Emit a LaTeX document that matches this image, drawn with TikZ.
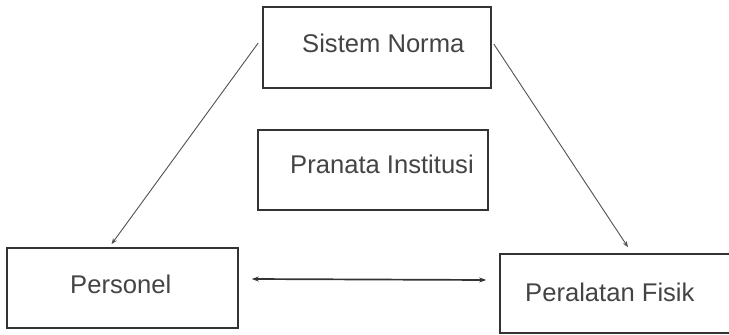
\documentclass[tikz,border=0pt]{standalone}
\usepackage{fontspec}
\setmainfont{Liberation Sans}
\usetikzlibrary{arrows.meta,calc}
\definecolor{ink}{HTML}{333333}
\definecolor{txt}{HTML}{444444}
\tikzset{
  box/.style={draw=ink, line width=1.6pt, rectangle, inner sep=0pt},
  lbl/.style={text=txt, inner sep=0pt, anchor=base west, font=\fontsize{25.6}{30}\selectfont},
  conn/.style={draw=ink!85, line width=0.9pt, -{Stealth[length=6pt,width=4.5pt]}},
  biconn/.style={draw=ink, line width=1.7pt, {Stealth[length=7pt,width=5pt]}-{Stealth[length=7pt,width=5pt]}}
}
\begin{document}
\begin{tikzpicture}[x=1pt,y=-1pt]
\useasboundingbox (0,0) rectangle (729,335);
\fill[white] (0,0) rectangle (729,335);
% boxes
\node[box, minimum width=228pt, minimum height=81pt] (sn) at (377,47.5) {};
\node[box, minimum width=230pt, minimum height=80pt] (pi) at (373,170) {};
\node[box, minimum width=231pt, minimum height=80pt] (pe) at (122.5,288) {};
\node[box, minimum width=240pt, minimum height=79pt] (pf) at (620,293.5) {};
% labels
\node[lbl] (snl) at (302,52) {Sistem Norma};
\node[lbl] (pil) at (290,173) {Pranata Institusi};
\node[lbl] (pel) at (70,293) {Personel};
\node[lbl] (pfl) at (525,301) {Peralatan Fisik};
% connectors
\draw[conn] ($(sn.west)+(-4,-4.5)$) -- ($(pe.north)+(-11,-3)$);
\draw[conn] ($(sn.east)+(2,-3.5)$) -- ($(pf.north)+(8,-6)$);
\draw[biconn] ($(pe.east)+(13,-9)$) -- ($(pf.west)+(-13,-13.5)$);
\end{tikzpicture}
\end{document}
